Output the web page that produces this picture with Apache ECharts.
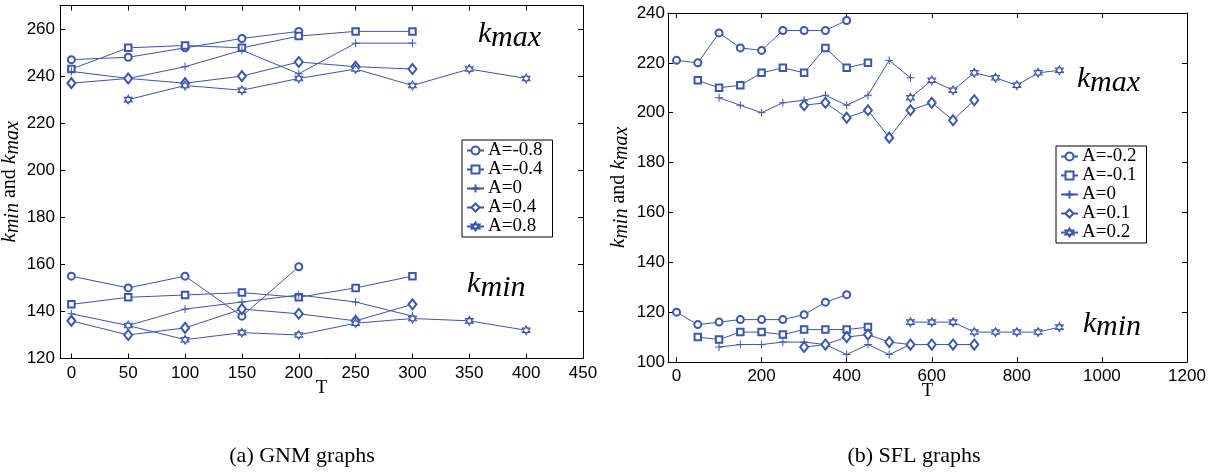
<!DOCTYPE html>
<html><head><meta charset="utf-8">
<script src="https://cdn.jsdelivr.net/npm/echarts@6/dist/echarts.min.js"></script>
<style>html,body{margin:0;padding:0;background:#fff}#c{width:1215px;height:472px}</style>
</head><body><div id="c"></div>
<script>
// ---- (a) GNM graphs ----
const gnmT = [0, 50, 100, 150, 200, 250, 300, 350, 400];
const gnmNames = ['A=-0.8', 'A=-0.4', 'A=0', 'A=0.4', 'A=0.8'];
const gnmKmaxM08 = [247, 248, 252, 256, 259, null, null, null, null];
const gnmKmaxM04 = [243, 252, 253, 252, 257, 259, 259, null, null];
const gnmKmax0   = [242, 239, 244, 251, 241, 254, 254, null, null];
const gnmKmaxP04 = [237, 239, 237, 240, 246, 244, 243, null, null];
const gnmKmaxP08 = [null, 230, 236, 234, 239, 243, 236, 243, 239];
const gnmKminM08 = [155, 150, 155, 138, 159, null, null, null, null];
const gnmKminM04 = [143, 146, 147, 148, 146, 150, 155, null, null];
const gnmKmin0   = [139, 134, 141, 144, 147, 144, 138, null, null];
const gnmKminP04 = [136, 130, 133, 141, 139, 136, 143, null, null];
const gnmKminP08 = [null, 134, 128, 131, 130, 135, 137, 136, 132];
const gnmXTicks = [0, 50, 100, 150, 200, 250, 300, 350, 400, 450];
const gnmYTicks = [120, 140, 160, 180, 200, 220, 240, 260];

// ---- (b) SFL graphs ----
const sflT = [0, 50, 100, 150, 200, 250, 300, 350, 400, 450, 500, 550, 600, 650, 700, 750, 800, 850, 900];
const sflNames = ['A=-0.2', 'A=-0.1', 'A=0', 'A=0.1', 'A=0.2'];
const sflKmaxM02 = [221, 220, 232, 226, 225, 233, 233, 233, 237, null, null, null, null, null, null, null, null, null, null];
const sflKmaxM01 = [null, 213, 210, 211, 216, 218, 216, 226, 218, 220, null, null, null, null, null, null, null, null, null];
const sflKmax0   = [null, null, 206, 203, 200, 204, 205, 207, 203, 207, 221, 214, null, null, null, null, null, null, null];
const sflKmaxP01 = [null, null, null, null, null, null, 203, 204, 198, 201, 190, 201, 204, 197, 205, null, null, null, null];
const sflKmaxP02 = [null, null, null, null, null, null, null, null, null, null, null, 206, 213, 209, 216, 214, 211, 216, 217];
const sflKminM02 = [120, 115, 116, 117, 117, 117, 119, 124, 127, null, null, null, null, null, null, null, null, null, null];
const sflKminM01 = [null, 110, 109, 112, 112, 111, 113, 113, 113, 114, null, null, null, null, null, null, null, null, null];
const sflKmin0   = [null, null, 106, 107, 107, 108, 108, 107, 103, 107, 103, 107, null, null, null, null, null, null, null];
const sflKminP01 = [null, null, null, null, null, null, 106, 107, 110, 111, 108, 107, 107, 107, 107, null, null, null, null];
const sflKminP02 = [null, null, null, null, null, null, null, null, null, null, null, 116, 116, 116, 112, 112, 112, 112, 114];
const sflXTicks = [0, 200, 400, 600, 800, 1000, 1200];
const sflYTicks = [100, 120, 140, 160, 180, 200, 220, 240];

const BLUE = '#3b56ab';
const SANS = 'Liberation Sans';
const SERIF = 'Liberation Serif';
// [symbol, size, isBuiltinEmpty]
const SYMBOLS = [
  ['emptyCircle', 7, true],
  ['emptyRect', 6.5, true],
  ['path://M5,0L5,10M0,5L10,5', 8, false],
  ['emptyDiamond', [8, 10], true],
  ['path://M5,0L9.33,7.5L0.67,7.5Z M5,10L0.67,2.5L9.33,2.5Z', [8, 9], false]
];

function pairs(xs, ys) {
  return xs.map((x, i) => [x, ys[i]]).filter(p => p[1] != null);
}
function mk(name, idx, xs, ys, gi) {
  const s = SYMBOLS[idx];
  return {
    type: 'line', name: name,
    xAxisIndex: gi * 2, yAxisIndex: gi * 2,
    data: pairs(xs, ys),
    symbol: s[0], symbolSize: s[1],
    showAllSymbol: true,
    lineStyle: { color: BLUE, width: 1 },
    itemStyle: s[2] ? { color: BLUE, borderWidth: 1 } : { color: '#fff', borderColor: BLUE, borderWidth: 1 },
    emphasis: { disabled: true },
    animation: false
  };
}

const series = [];
[gnmKmaxM08, gnmKmaxM04, gnmKmax0, gnmKmaxP04, gnmKmaxP08].forEach((d, i) => series.push(mk(gnmNames[i], i, gnmT, d, 0)));
[gnmKminM08, gnmKminM04, gnmKmin0, gnmKminP04, gnmKminP08].forEach((d, i) => series.push(mk(gnmNames[i], i, gnmT, d, 0)));
[sflKmaxM02, sflKmaxM01, sflKmax0, sflKmaxP01, sflKmaxP02].forEach((d, i) => series.push(mk(sflNames[i], i, sflT, d, 1)));
[sflKminM02, sflKminM01, sflKmin0, sflKminP01, sflKminP02].forEach((d, i) => series.push(mk(sflNames[i], i, sflT, d, 1)));

const axLine = { show: true, onZero: false, lineStyle: { color: '#000', width: 1 } };
const plain = v => String(v);
function xAx(gi, pos, min, max, ticks, show) {
  return {
    type: 'value', gridIndex: gi, position: pos, min: min, max: max,
    axisLine: axLine,
    axisTick: { show: true, inside: true, length: 5, customValues: ticks, lineStyle: { color: '#000', width: 1 } },
    axisLabel: show ? { show: true, customValues: ticks, formatter: plain, fontFamily: SANS, fontSize: 17, color: '#000', margin: 6 } : { show: false },
    splitLine: { show: false },
    name: show ? 'T' : '', nameLocation: 'middle', nameGap: 20, nameMoveOverlap: false,
    nameTextStyle: { fontFamily: SERIF, fontSize: 19, color: '#000' }
  };
}
const yName = '{k|k}{s|min}{r| and }{k|k}{s|max}';
const yRich = {
  k: { fontFamily: SERIF, fontStyle: 'italic', fontSize: 22, color: '#000', verticalAlign: 'bottom', padding: [0, 0, 3, 0] },
  s: { fontFamily: SERIF, fontStyle: 'italic', fontSize: 20, color: '#000', verticalAlign: 'bottom' },
  r: { fontFamily: SERIF, fontSize: 20, color: '#000', verticalAlign: 'bottom', padding: [0, 0, 3, 0] }
};
function yAx(gi, pos, min, max, ticks, show, gap, lm) {
  return {
    type: 'value', gridIndex: gi, position: pos, min: min, max: max,
    axisLine: axLine,
    axisTick: { show: true, inside: true, length: 5, customValues: ticks, lineStyle: { color: '#000', width: 1 } },
    axisLabel: show ? { show: true, customValues: ticks, formatter: plain, fontFamily: SANS, fontSize: 17, color: '#000', margin: lm } : { show: false },
    splitLine: { show: false },
    name: show ? yName : '', nameLocation: 'middle', nameGap: gap, nameMoveOverlap: false,
    nameTextStyle: { rich: yRich }
  };
}

function legend(names, left, top) {
  return {
    data: names, orient: 'vertical', left: left, top: top,
    itemWidth: 17, itemHeight: 10, itemGap: 0,
    padding: [1, 10, 1, 4],
    backgroundColor: '#fff', borderColor: '#000', borderWidth: 1, borderRadius: 0,
    selectedMode: false,
    textStyle: { fontFamily: SERIF, fontSize: 19, lineHeight: 18.5, color: '#000', padding: [0, 0, 0, -1] }
  };
}

function txt(s, x, y, size, italic) {
  return { type: 'text', x: x, y: y, silent: true,
    style: { text: s, fontFamily: SERIF, fontSize: size, fontStyle: italic ? 'italic' : 'normal', fill: '#000', verticalAlign: 'middle' } };
}
function ctxt(s, x, y, size) {
  return { type: 'text', x: x, y: y, silent: true,
    style: { text: s, fontFamily: SERIF, fontSize: size, fill: '#000', align: 'center', verticalAlign: 'middle' } };
}

const option = {
  backgroundColor: '#fff',
  animation: false,
  grid: [
    { left: 60, top: 5.5, width: 523, height: 353, outerBoundsMode: 'none', containLabel: false },
    { left: 668, top: 13, width: 519, height: 349, outerBoundsMode: 'none', containLabel: false }
  ],
  xAxis: [
    xAx(0, 'bottom', -10, 450, gnmXTicks, true),
    xAx(0, 'top', -10, 450, gnmXTicks, false),
    xAx(1, 'bottom', -20, 1200, sflXTicks, true),
    xAx(1, 'top', -20, 1200, sflXTicks, false)
  ],
  yAxis: [
    yAx(0, 'left', 120, 270, gnmYTicks, true, 37, 5),
    yAx(0, 'right', 120, 270, gnmYTicks, false, 0, 0),
    yAx(1, 'left', 100, 240, sflYTicks, true, 36, 3),
    yAx(1, 'right', 100, 240, sflYTicks, false, 0, 0)
  ],
  legend: [legend(gnmNames, 462, 140), legend(sflNames, 1056, 146)],
  series: series,
  graphic: [
    txt('k', 478, 34, 30, true), txt('max', 491, 38, 30, true),
    txt('k', 467, 284, 30, true), txt('min', 480.5, 288, 30, true),
    txt('k', 1077, 79, 30, true), txt('max', 1090, 83, 30, true),
    txt('k', 1083, 324, 30, true), txt('min', 1096, 327, 30, true),
    ctxt('(a) GNM graphs', 302, 456, 22),
    ctxt('(b) SFL graphs', 914, 456, 22)
  ]
};
const chart = echarts.init(document.getElementById('c'), null, { renderer: 'canvas' });
chart.setOption(option);
</script>
</body></html>
